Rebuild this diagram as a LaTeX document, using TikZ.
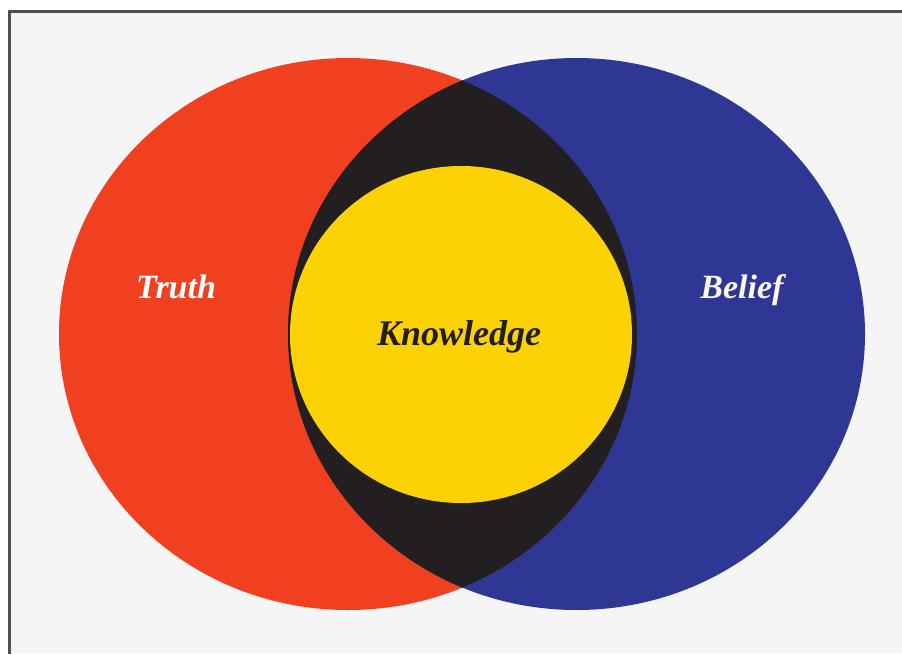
\documentclass[tikz,border=0pt]{standalone}
\usepackage{fontspec}
\setmainfont{Liberation Serif}
\usepackage{xcolor}
\definecolor{Vermilion}{HTML}{F0401F}
\definecolor{Indigo}{HTML}{2E3894}
\definecolor{Ink}{HTML}{231F20}
\definecolor{Gold}{HTML}{FCD205}
\definecolor{Paper}{HTML}{F5F5F5}
\definecolor{Frame}{HTML}{505050}
\definecolor{Cream}{HTML}{FBF6E6}
\colorlet{cTruth}{Vermilion}
\colorlet{cBelief}{Indigo}
\colorlet{cLens}{Ink}
\colorlet{cKnow}{Gold}
\usetikzlibrary{positioning}
\tikzset{
	x=1pt,
	y=-1pt,
	label/.style={
		font=\fontsize{34}{36}\selectfont\bfseries\itshape,
		inner sep=0pt
	}
}

\begin{document}
\begin{tikzpicture}
	% ---
	% page and frame
	% ---
	\useasboundingbox (0,0) rectangle (902,654);
	\fill[white] (0,0) rectangle (902,654);
	\fill[Paper] (9,11) rectangle (902,654);
	\draw[Frame, line width=3pt] (9,654) -- (9,11) -- (902,11);

	% ---
	% truth and belief
	% ---
	\fill[cTruth] (348,334) ellipse [x radius=289, y radius=276];
	\fill[cBelief] (576.5,334) ellipse [x radius=288.5, y radius=276];
	\begin{scope}
		\clip (348,334) ellipse [x radius=289, y radius=276];
		\fill[cLens] (576.5,334) ellipse [x radius=288.5, y radius=276];
	\end{scope}
	\fill[cKnow] (461,334.5) ellipse [x radius=171, y radius=168.5];

	% ---
	% labels
	% ---
	\node[label, text=white] (truth) at (176,287) {Truth};
	\node[label, text=Cream] (belief) at (742,290) {Belief};
	\node[label, text=cLens, font=\fontsize{36}{38}\selectfont\bfseries\itshape] (know) at (459,337) {Knowledge};
\end{tikzpicture}
\end{document}
